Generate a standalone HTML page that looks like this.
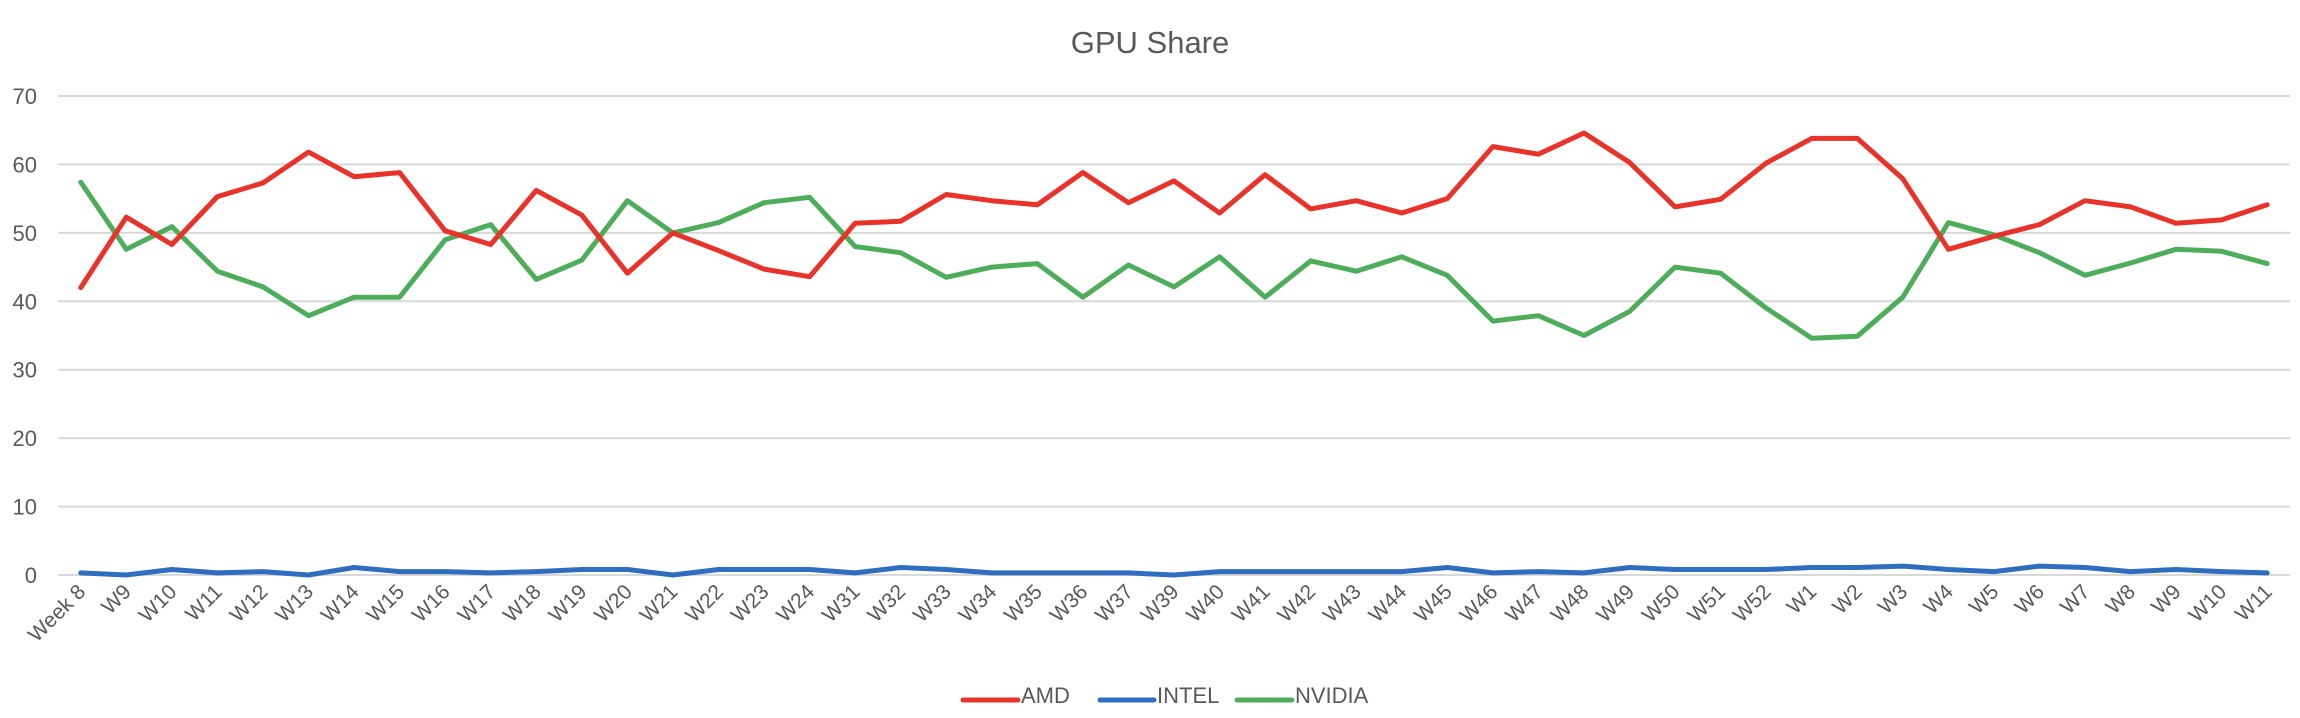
<!DOCTYPE html>
<html><head><meta charset="utf-8"><style>
html,body{margin:0;padding:0;background:#fff;}
svg{display:block;font-family:"Liberation Sans","DejaVu Sans",sans-serif;}
</style></head><body>
<svg id="chart" width="2300" height="718" viewBox="0 0 2300 718">
<text x="1150" y="53" text-anchor="middle" font-size="31" fill="#595959">GPU Share</text>
<g id="grid"></g>
<g id="ylabels"></g>
<g id="xlabels"></g>
<g id="series"></g>
<g>
<g><line x1="963" y1="700" x2="1018" y2="700" stroke="#E8332A" stroke-width="5" stroke-linecap="round"/><text x="1021" y="703" font-size="22" fill="#595959">AMD</text></g>
<g><line x1="1100" y1="700" x2="1154" y2="700" stroke="#2F6EBF" stroke-width="5" stroke-linecap="round"/><text x="1157" y="703" font-size="22" fill="#595959">INTEL</text></g>
<g><line x1="1237" y1="700" x2="1292" y2="700" stroke="#4EAD5B" stroke-width="5" stroke-linecap="round"/><text x="1295" y="703" font-size="22" fill="#595959">NVIDIA</text></g>
</g>
</svg>
<script>
const categories = ["Week 8","W9","W10","W11","W12","W13","W14","W15","W16","W17","W18","W19","W20","W21","W22","W23","W24","W31","W32","W33","W34","W35","W36","W37","W39","W40","W41","W42","W43","W44","W45","W46","W47","W48","W49","W50","W51","W52","W1","W2","W3","W4","W5","W6","W7","W8","W9","W10","W11"];
const amd = [42,52.3,48.3,55.3,57.3,61.8,58.2,58.8,50.3,48.3,56.2,52.6,44.1,50,47.4,44.7,43.6,51.4,51.7,55.6,54.7,54.1,58.8,54.4,57.6,52.9,58.5,53.5,54.7,52.9,55,62.6,61.5,64.6,60.3,53.8,54.9,60.2,63.8,63.8,57.9,47.6,49.5,51.2,54.7,53.8,51.4,51.9,54.1];
const intel = [0.3,0,0.8,0.3,0.5,0,1.1,0.5,0.5,0.3,0.5,0.8,0.8,0,0.8,0.8,0.8,0.3,1.1,0.8,0.3,0.3,0.3,0.3,0,0.5,0.5,0.5,0.5,0.5,1.1,0.3,0.5,0.3,1.1,0.8,0.8,0.8,1.1,1.1,1.3,0.8,0.5,1.3,1.1,0.5,0.8,0.5,0.3];
const nvidia = [57.4,47.6,50.9,44.4,42.1,37.9,40.6,40.6,49,51.2,43.2,46,54.7,50,51.5,54.4,55.2,48,47.1,43.5,45,45.5,40.6,45.3,42.1,46.5,40.6,45.9,44.4,46.5,43.8,37.1,37.9,35,38.5,45,44.1,39,34.6,34.9,40.6,51.5,49.7,47.1,43.8,45.6,47.6,47.3,45.5];
const yTicks = [0,10,20,30,40,50,60,70];

const NS="http://www.w3.org/2000/svg";
const left=58, right=2290, y0=575, y70=96;
const step=(right-left)/categories.length;
function xPos(i){return left+step*(i+0.5);}
function yPos(v){return y0-(v/70)*(y0-y70);}
function mk(tag,attrs,parent){const e=document.createElementNS(NS,tag);for(const k in attrs)e.setAttribute(k,attrs[k]);parent.appendChild(e);return e;}

const grid=document.getElementById('grid'), yl=document.getElementById('ylabels'), xl=document.getElementById('xlabels'), ser=document.getElementById('series');
yTicks.forEach(t=>{
  const l=mk('line',{x1:left,x2:right,y1:yPos(t),y2:yPos(t),stroke:'#D9D9D9','stroke-width':2},grid);
  
  
  const tx=mk('text',{x:37,y:yPos(t)+8,'text-anchor':'end','font-size':22,fill:'#595959'},yl);
  tx.textContent=String(t);
  
  
});
categories.forEach((c,i)=>{
  const x=xPos(i)+6, y=593;
  const tx=mk('text',{x:x,y:y,'text-anchor':'end','font-size':21,fill:'#595959',transform:'rotate(-45 '+x+' '+y+')'},xl);
  tx.textContent=c;
  
  
});
function drawSeries(vals,color,name){
  const pts=vals.map((v,i)=>xPos(i).toFixed(1)+','+yPos(v).toFixed(1)).join(' ');
  const p=mk('polyline',{points:pts,fill:'none',stroke:color,'stroke-width':5,'stroke-linejoin':'round','stroke-linecap':'round'},ser);
  
  
}
drawSeries(intel,'#2F6EBF','intel-line');
drawSeries(nvidia,'#4EAD5B','nvidia-line');
drawSeries(amd,'#E8332A','amd-line');
</script>
</body></html>
